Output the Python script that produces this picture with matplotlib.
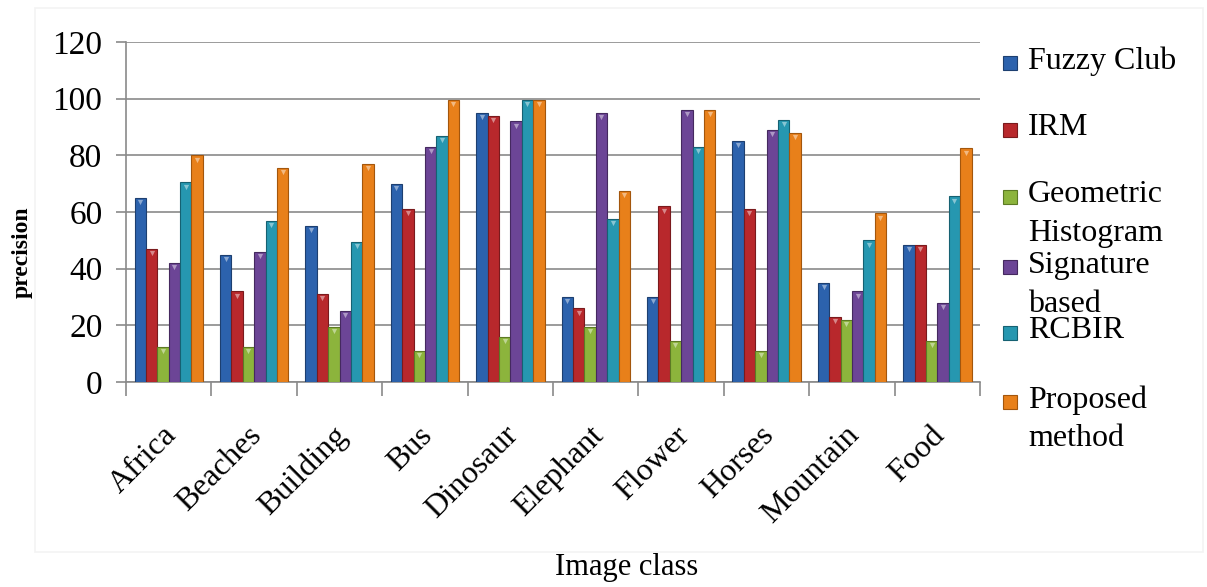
import matplotlib.pyplot as plt
import matplotlib.transforms as mtransforms
import numpy as np

categories = ["Africa", "Beaches", "Building", "Bus", "Dinosaur",
              "Elephant", "Flower", "Horses", "Mountain", "Food"]
fuzzy_club = [65, 45, 55, 70, 95, 30, 30, 85, 35, 48.5]
irm = [47, 32, 31, 61, 94, 26, 62, 61, 23, 48.5]
geometric_hist = [12.5, 12.5, 19.5, 11, 16, 19.5, 14.5, 11, 22, 14.5]
signature = [42, 46, 25, 83, 92, 95, 96, 89, 32, 28]
rcbir = [70.5, 57, 49.5, 87, 99.5, 57.5, 83, 92.5, 50, 65.5]
proposed = [80, 75.5, 77, 99.5, 99.5, 67.5, 96, 88, 59.5, 82.5]

series = [fuzzy_club, irm, geometric_hist, signature, rcbir, proposed]
labels = [["Fuzzy Club"], ["IRM"], ["Geometric", "Histogram"],
          ["Signature", "based"], ["RCBIR"], ["Proposed", "method"]]
colors = ["#2c62ad", "#b8282c", "#8cb43c", "#6c4596", "#2697b0", "#e8801a"]
edges = ["#1d3f70", "#7a1a1d", "#5c7a24", "#45295f", "#166172", "#a3560c"]

serif = ['Liberation Serif', 'DejaVu Serif']
plt.rcParams['font.family'] = serif

fig = plt.figure(figsize=(12.07, 5.87), dpi=100)

# faint frame around the chart area
fig.patches.append(plt.Rectangle((35 / 1207, 1 - 552 / 587), 1168 / 1207,
                                 544 / 587, transform=fig.transFigure,
                                 facecolor='none', edgecolor='#f3f3f3',
                                 linewidth=1.2))

ax = fig.add_axes([0.1044, 0.3492, 0.7076, 0.5792])

x = np.arange(len(categories))
w = 0.8 / 6
for j, vals in enumerate(series):
    ax.bar(x + (j - 2.5) * w, vals, width=w, color=colors[j],
           edgecolor=edges[j], linewidth=0.8, zorder=3)
    ax.scatter(x + (j - 2.5) * w, np.array(vals) - 1.5, marker='v', s=14,
               color='white', alpha=0.45, linewidths=0, zorder=4)

ax.set_xlim(-0.5, len(categories) - 0.5)
ax.set_ylim(0, 120)
ax.set_yticks(range(0, 121, 20))
ax.yaxis.grid(True, color='#8a8a8a', linewidth=1.2, zorder=0)
ax.set_axisbelow(True)

for s in ['top', 'right']:
    ax.spines[s].set_visible(False)
for s in ['left', 'bottom']:
    ax.spines[s].set_color('#8a8a8a')
    ax.spines[s].set_linewidth(1.2)

ax.tick_params(axis='y', direction='out', length=7, color='#8a8a8a',
               width=1.2, labelsize=24, pad=10)
ax.set_xticks(x)
ax.set_xticklabels(categories, rotation=45, ha='right',
                   rotation_mode='anchor', fontsize=23)
ax.tick_params(axis='x', length=0, pad=28)
shift = mtransforms.ScaledTranslation(-7 / 100, 0, fig.dpi_scale_trans)
for lbl in ax.get_xticklabels():
    lbl.set_transform(lbl.get_transform() + shift)
ax.set_xticks(np.arange(-0.5, len(categories)), minor=True)
ax.tick_params(axis='x', which='minor', direction='out', length=10,
               color='#8a8a8a', width=1.2)

fig.text(0.018, 1 - 252 / 587, "precision", rotation=90, fontsize=17,
         fontweight='bold', ha='center', va='center', family=serif)
fig.text(0.519, 1 - 568 / 587, "Image class", fontsize=22, ha='center',
         va='center', family=serif)

# legend drawn by hand
marker_y = [63, 130, 197, 267, 333, 402]
for j in range(6):
    yc = 1 - marker_y[j] / 587
    fig.patches.append(plt.Rectangle((1003 / 1207, yc - 7 / 587), 14 / 1207,
                                     14 / 587, transform=fig.transFigure,
                                     facecolor=colors[j], edgecolor=edges[j],
                                     linewidth=0.8))
    for k, line in enumerate(labels[j]):
        fig.text(1028 / 1207, 1 - (marker_y[j] - 2 + k * 39) / 587, line,
                 fontsize=23, ha='left', va='center', family=serif)

fig.savefig("out.png", dpi=100)
